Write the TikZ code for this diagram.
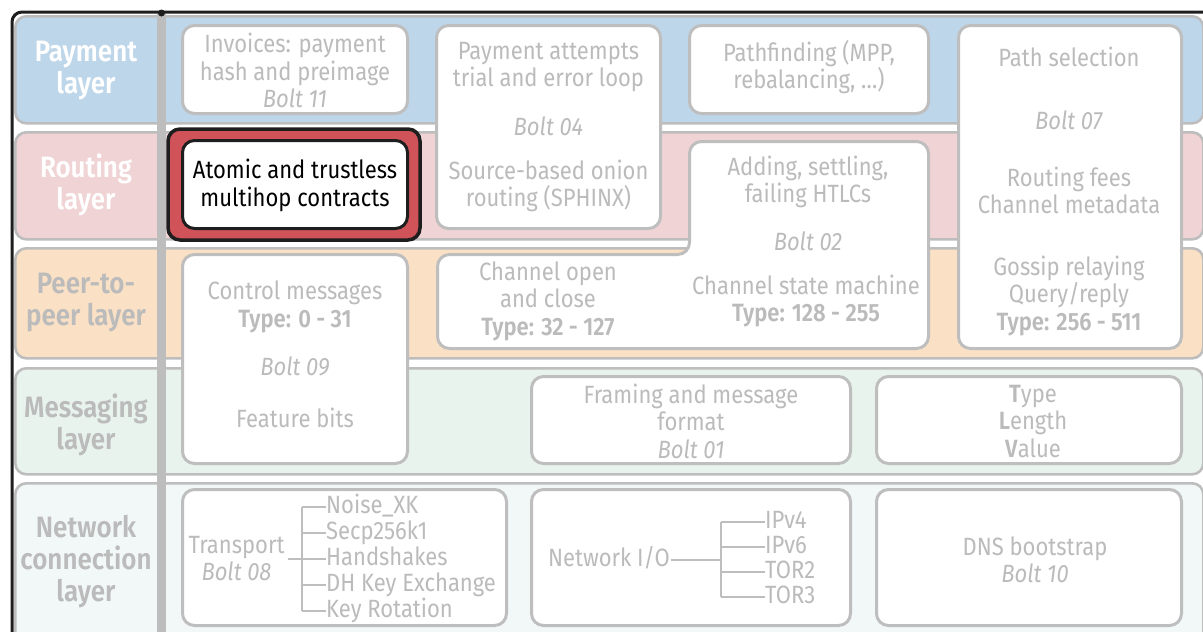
\documentclass[tikz,border=0pt]{standalone}
\usepackage{fontspec}
\setmainfont{Fira Sans}[FakeStretch=0.88,BoldFont={* SemiBold},BoldItalicFont={* SemiBold Italic}]

\definecolor{payblue}{HTML}{BED6EA}
\definecolor{routepink}{HTML}{F0D3D4}
\definecolor{peerpeach}{HTML}{FAE0C5}
\definecolor{msgmint}{HTML}{E8F3EE}
\definecolor{netice}{HTML}{F2F8F8}
\definecolor{bandline}{HTML}{BDBDBD}
\definecolor{boxline}{HTML}{BEBEBE}
\definecolor{txtgray}{HTML}{BBBBBB}
\definecolor{redfill}{HTML}{CF5358}
\definecolor{framek}{HTML}{1E1E1E}

\newcommand\boxfont{\fontsize{25}{27.5}\selectfont}
\newcommand\layerfont{\fontsize{29.5}{32}\selectfont\bfseries}

\begin{document}
\begin{tikzpicture}[x=1pt,y=-1pt,
  band/.style={draw=bandline, line width=2.6pt, rounded corners=11pt, anchor=north west, minimum width=1188pt},
  box/.style={draw=boxline, fill=white, line width=3pt, rounded corners=12pt, inner sep=0pt},
  txt/.style={text=txtgray, font=\boxfont, align=center, inner sep=0pt},
  layertxt/.style={font=\layerfont, align=center, inner sep=0pt},
  tree/.style={draw=boxline, line width=2.4pt},
  item/.style={txt, anchor=west, text height=18pt, text depth=5pt},
]
\useasboundingbox (0,0) rectangle (1203,632);
\clip (0,0) rectangle (1203,632);

% layer bands
\node[band, fill=payblue,   minimum height=107pt] (bpay)   at (14,15)  {};
\node[band, fill=routepink, minimum height=107pt] (broute) at (14,131) {};
\node[band, fill=peerpeach, minimum height=110pt] (bpeer)  at (14,247) {};
\node[band, fill=msgmint,   minimum height=106pt] (bmsg)   at (14,367) {};
\node[band, fill=netice,    minimum height=163pt] (bnet)   at (14,482) {};

% outer frame and separator bar
\draw[framek, line width=3pt, rounded corners=10pt] (12,645) -- (12,12) -- (1215,12);
\fill[bandline] (157,14) rectangle (166,645);
\fill[framek] (161.5,13) circle (3.5pt);

% layer names
\node[layertxt, text=white]   (lpay)   at (86,71)  {Payment\\layer};
\node[layertxt, text=white]   (lroute) at (86,185) {Routing\\layer};
\node[layertxt, text=txtgray] (lpeer)  at (86,303) {Peer-to-\\peer layer};
\node[layertxt, text=txtgray] (lmsg)   at (86,425) {Messaging\\layer};
\node[layertxt, text=txtgray] (lnet)   at (86,562) {Network\\connection\\layer};

% boxes
\node[box, minimum width=225pt, minimum height=88pt]  (inv)     at (295,69.5)   {};
\node[box, minimum width=224pt, minimum height=203pt] (payatt)  at (548.5,127)  {};
\node[box, minimum width=239pt, minimum height=88pt]  (pathf)   at (809,69.5)   {};
\node[box, minimum width=223pt, minimum height=323pt] (pathsel) at (1070,187)   {};
\draw[box] (810,141.5) -- (928.5,141.5) -- (928.5,348.5) -- (437.5,348.5)
           -- (437.5,254.5) -- (689.5,254.5) -- (689.5,141.5) -- cycle;
\node[box, minimum width=225pt, minimum height=209pt] (ctrl)    at (295,359)    {};
\node[box, minimum width=319pt, minimum height=87pt]  (framing) at (691,420)    {};
\node[box, minimum width=305pt, minimum height=87pt]  (tlv)     at (1029,420)   {};
\node[box, minimum width=324pt, minimum height=136pt] (transp)  at (344.5,557.5){};
\node[box, minimum width=319pt, minimum height=136pt] (netio)   at (691,557.5)  {};
\node[box, minimum width=305pt, minimum height=136pt] (dns)     at (1029,557.5) {};

% highlighted routing contract
\node[draw=framek, fill=redfill, line width=3.5pt, rounded corners=12pt,
      minimum width=252pt, minimum height=111pt] (atomicbg) at (294,184.5) {};
\node[draw=framek, fill=white, line width=3pt, rounded corners=12pt,
      minimum width=225pt, minimum height=88pt] (atomic) at (295,184.5) {};
\node[txt, text=black] (atomictxt) at (295,185.5) {Atomic and trustless\\multihop contracts};

% payment layer texts
\node[txt] (invtxt) at (295,70.5) {Invoices: payment\\hash and preimage\\\textit{Bolt 11}};
\node[txt] (patt1) at (548.5,67) {Payment attempts\\trial and error loop};
\node[txt] (patt2) at (548.5,126) {\textit{Bolt 04}};
\node[txt] (patt3) at (548.5,186) {Source-based onion\\routing (SPHINX)};
\node[txt] (pathftxt) at (809,67) {Pathfinding (MPP,\\rebalancing, …)};
\node[txt] (psel1) at (1069,57) {Path selection};
\node[txt] (psel2) at (1069,120) {\textit{Bolt 07}};
\node[txt] (psel3) at (1069,190.5) {Routing fees\\Channel metadata};
\node[txt] (psel4) at (1069,295.5) {Gossip relaying\\Query/reply\\\textbf{Type: 256 - 511}};

% channel box texts
\node[txt] (htlc1) at (808,182) {Adding, settling,\\failing HTLCs};
\node[txt] (htlc2) at (808,241) {\textit{Bolt 02}};
\node[txt] (htlc3) at (806,301) {Channel state machine\\\textbf{Type: 128 - 255}};
\node[txt] (chopen) at (548,301) {Channel open\\and close\\\textbf{Type: 32 - 127}};

% control messages
\node[txt] (ctrl1) at (295,307) {Control messages\\\textbf{Type: 0 - 31}};
\node[txt] (ctrl2) at (295,366) {\textit{Bolt 09}};
\node[txt] (ctrl3) at (295,418) {Feature bits};

% messaging layer texts
\node[txt] (framtxt) at (691,421) {Framing and message\\format\\\textit{Bolt 01}};
\node[txt] (tlvtxt) at (1033,421) {\textbf{T}ype\\\textbf{L}ength\\\textbf{V}alue};

% network layer: transport tree
\node[txt] (transtxt) at (236.5,558.5) {Transport\\\textit{Bolt 08}};
\coordinate (tj) at (302,559);
\coordinate (ttop) at (302,507);
\coordinate (tbot) at (302,611);
\node[item] (t1) at (326,507) {Noise\_XK};
\node[item] (t2) at (326,533) {Secp256k1};
\node[item] (t3) at (326,559) {Handshakes};
\node[item] (t4) at (326,585) {DH Key Exchange};
\node[item] (t5) at (326,611) {Key Rotation};
\draw[tree] ([xshift=3pt]transtxt.east |- tj) -- (tj);
\draw[tree] (ttop) -- (tbot);
\foreach \n in {t1,t2,t3,t4,t5}
  \draw[tree] (tj |- \n.west) -- (\n.west);

% network layer: I/O tree
\node[item, anchor=center] (niotxt) at (609,560) {Network I/O};
\coordinate (nj) at (721,560);
\coordinate (ntop) at (721,522);
\coordinate (nbot) at (721,597);
\node[item] (n1) at (765,522) {IPv4};
\node[item] (n2) at (765,547) {IPv6};
\node[item] (n3) at (765,572) {TOR2};
\node[item] (n4) at (765,597) {TOR3};
\draw[tree] ([xshift=1pt]niotxt.east |- nj) -- (nj);
\draw[tree] (ntop) -- (nbot);
\foreach \n in {n1,n2,n3,n4}
  \draw[tree] (nj |- \n.west) -- (\n.west);

% network layer: DNS
\node[txt] (dnstxt) at (1035,560) {DNS bootstrap\\\textit{Bolt 10}};
\end{tikzpicture}
\end{document}
